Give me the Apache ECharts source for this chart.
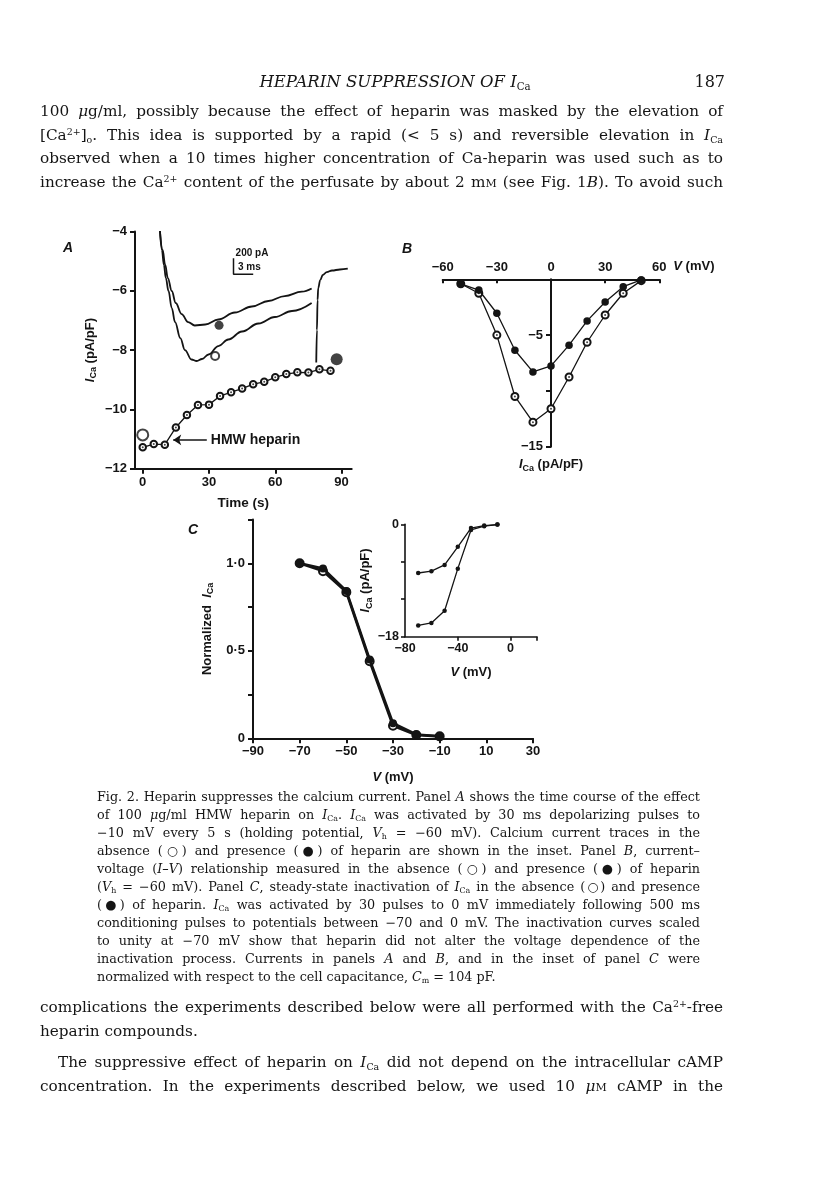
<!DOCTYPE html>
<html><head><meta charset="utf-8">
<script src="https://cdn.jsdelivr.net/npm/echarts@6/dist/echarts.min.js"></script>
<style>
html,body{margin:0;padding:0;background:#fff;}
#page{position:relative;width:816px;height:1204px;overflow:hidden;background:#fff;}
#chart{position:absolute;left:0;top:0;width:816px;height:1204px;}
.t{position:absolute;font-family:"DejaVu Serif","Liberation Serif",serif;color:#151515;white-space:normal;}
.j{text-align:justify;text-align-last:justify;}
.l{text-align:left;text-align-last:left;}
.body{font-size:15.5px;line-height:24px;height:24px;}
.cap{font-size:12.5px;line-height:18px;height:18px;}
.measure{text-align:left !important;text-align-last:left !important;white-space:nowrap !important;}
sub{font-size:0.62em;vertical-align:-0.3em;line-height:0;font-style:normal;}
sup{font-size:0.62em;vertical-align:0.5em;line-height:0;}
.sc{font-variant:small-caps;}
</style>
</head><body>
<div id="page">
<div id="chart"></div>

<div class="t" style="left:0;width:790px;top:70px;font-size:16.5px;line-height:24px;font-style:italic;text-align:center;">HEPARIN SUPPRESSION OF <i>I</i><sub>Ca</sub></div>
<div class="t" style="left:680px;width:45px;top:70px;font-size:16px;line-height:24px;text-align:right;">187</div>

<div class="t body j" style="left:40px;width:683px;top:99px;"><span>100&nbsp;<i>μ</i>g/ml, possibly because the effect of heparin was masked by the elevation of</span></div>
<div class="t body j" style="left:40px;width:683px;top:123px;"><span>[Ca<sup>2+</sup>]<sub>o</sub>. This idea is supported by a rapid (&lt; 5&nbsp;s) and reversible elevation in <i>I</i><sub>Ca</sub></span></div>
<div class="t body j" style="left:40px;width:683px;top:146px;"><span>observed when a 10 times higher concentration of Ca-heparin was used such as to</span></div>
<div class="t body j" style="left:40px;width:683px;top:170px;"><span>increase the Ca<sup>2+</sup> content of the perfusate by about 2&nbsp;m<span class="sc">m</span> (see Fig. 1<i>B</i>). To avoid such</span></div>

<div class="t cap j" style="left:97px;width:603px;top:788px;"><span>Fig. 2. Heparin suppresses the calcium current. Panel <i>A</i> shows the time course of the effect</span></div>
<div class="t cap j" style="left:97px;width:603px;top:806px;"><span>of 100&nbsp;<i>μ</i>g/ml HMW heparin on <i>I</i><sub>Ca</sub>. <i>I</i><sub>Ca</sub> was activated by 30&nbsp;ms depolarizing pulses to</span></div>
<div class="t cap j" style="left:97px;width:603px;top:824px;"><span>−10&nbsp;mV every 5&nbsp;s (holding potential, <i>V</i><sub>h</sub>&nbsp;=&nbsp;−60&nbsp;mV). Calcium current traces in the</span></div>
<div class="t cap j" style="left:97px;width:603px;top:842px;"><span>absence (○) and presence (●) of heparin are shown in the inset. Panel <i>B</i>, current–</span></div>
<div class="t cap j" style="left:97px;width:603px;top:860px;"><span>voltage (<i>I–V</i>) relationship measured in the absence (○) and presence (●) of heparin</span></div>
<div class="t cap j" style="left:97px;width:603px;top:878px;"><span>(<i>V</i><sub>h</sub>&nbsp;=&nbsp;−60&nbsp;mV). Panel <i>C</i>, steady-state inactivation of <i>I</i><sub>Ca</sub> in the absence (○) and presence</span></div>
<div class="t cap j" style="left:97px;width:603px;top:896px;"><span>(●) of heparin. <i>I</i><sub>Ca</sub> was activated by 30 pulses to 0&nbsp;mV immediately following 500&nbsp;ms</span></div>
<div class="t cap j" style="left:97px;width:603px;top:914px;"><span>conditioning pulses to potentials between −70 and 0&nbsp;mV. The inactivation curves scaled</span></div>
<div class="t cap j" style="left:97px;width:603px;top:932px;"><span>to unity at −70&nbsp;mV show that heparin did not alter the voltage dependence of the</span></div>
<div class="t cap j" style="left:97px;width:603px;top:950px;"><span>inactivation process. Currents in panels <i>A</i> and <i>B</i>, and in the inset of panel <i>C</i> were</span></div>
<div class="t cap l" style="left:97px;width:603px;top:968px;"><span>normalized with respect to the cell capacitance, <i>C</i><sub>m</sub>&nbsp;=&nbsp;104&nbsp;pF.</span></div>

<div class="t body j" style="left:40px;width:683px;top:995px;"><span>complications the experiments described below were all performed with the Ca<sup>2+</sup>-free</span></div>
<div class="t body l" style="left:40px;width:683px;top:1019px;"><span>heparin compounds.</span></div>
<div class="t body j" style="left:58px;width:665px;top:1050px;"><span>The suppressive effect of heparin on <i>I</i><sub>Ca</sub> did not depend on the intracellular cAMP</span></div>
<div class="t body j" style="left:40px;width:683px;top:1074px;"><span>concentration. In the experiments described below, we used 10&nbsp;<i>μ</i><span class="sc">m</span> cAMP in the</span></div>
</div>

<script>
// ---------- Panel A: time course of I_Ca ----------
const timeS   = [0,5,10,15,20,25,30,35,40,45,50,55,60,65,70,75,80,85];
const icaTime = [-11.28,-11.17,-11.19,-10.61,-10.19,-9.85,-9.84,-9.55,-9.42,-9.30,-9.15,-9.07,-8.92,-8.81,-8.75,-8.76,-8.65,-8.70];
const bigOpenPt   = [[0,-10.86]];
const bigFilledPt = [[87.8,-8.31]];
const ticksA_x = [0,30,60,90];
// inset current traces (ms, pA)
const hepTraceMs = [3.8,4.2,4.6,5.0,5.6,6.2,7.1,8.1,9.1,10.7,12.7,15.2,17.8,20.3,22.8,25.4,26.9];
const hepTracePa = [500,263,75,-88,-250,-400,-538,-638,-681,-669,-606,-519,-444,-375,-313,-259,-219];
const ctlTraceMs = [3.8,4.1,4.4,4.7,5.1,5.6,6.1,6.9,7.6,8.6,9.4,10.2,11.2,12.7,14.2,16.3,18.8,21.3,23.9,26.9];
const ctlTracePa = [500,263,75,-88,-250,-463,-638,-838,-988,-1106,-1125,-1100,-1044,-938,-856,-756,-656,-575,-500,-400];
const tailMs = [27.6,27.7,27.8,27.9,28.2,28.6,29.2,30.0,31.2,32.4];
const tailPa = [-1144,-738,-363,-213,-113,-50,-13,6,19,29];
const scaleBarMs = [15,15,18];
const scaleBarPa = [160,-40,-40];
const hepMarker = [[12.8,-679]];
const ctlMarker = [[12.2,-1063]];

// ---------- Panel B: I-V relationship ----------
const ivV   = [-50,-40,-30,-20,-10,0,10,20,30,40,50];
const ivHep = [-0.42,-0.96,-3.04,-6.36,-8.3,-7.76,-5.9,-3.73,-2.03,-0.66,-0.06];
const ivCtl = [-0.4,-1.25,-5.0,-10.5,-12.8,-11.6,-8.75,-5.64,-3.2,-1.25,-0.12];

// ---------- Panel C: steady-state inactivation ----------
const inactV   = [-70,-60,-50,-40,-30,-20,-10];
const inactCtl = [1.0,0.955,0.835,0.44,0.072,0.019,0.011];
const inactHep = [1.0,0.97,0.842,0.45,0.086,0.022,0.012];
const ticksC_x = [-90,-70,-50,-30,-10,10,30];
// inset of C (pA/pF)
const insetV   = [-70,-60,-50,-40,-30,-20,-10];
const insetHep = [-7.8,-7.5,-6.5,-3.6,-0.6,-0.2,-0.05];
const insetCtl = [-16.2,-15.8,-13.85,-7.1,-0.9,-0.3,-0.05];
const ticksIn_x = [-80,-40,0];

// ---------- fit justified text lines to their width ----------
function fitGroup(cls, maxSize) {
  const lines = Array.from(document.querySelectorAll('.' + cls));
  let size = maxSize;
  const fits = () => lines.every(d => {
    d.classList.add('measure');
    const w = d.firstElementChild.getBoundingClientRect().width;
    d.classList.remove('measure');
    return w <= d.clientWidth * 0.985;
  });
  for (; size > 8; size -= 0.25) {
    lines.forEach(d => d.style.fontSize = size + 'px');
    if (fits()) break;
  }
}
fitGroup('body', 18);
fitGroup('cap', 15);

const F = '"Liberation Sans", Arial, sans-serif';
const INK = '#141414';
const minus = v => (v < 0 ? '\u2212' + Math.abs(v) : String(v));
const zip = (xs, ys) => xs.map((x, i) => [x, ys[i]]);

const lbl = (o) => Object.assign({color: INK, fontFamily: F, fontSize: 13, fontWeight: 'bold'}, o || {});
const richI = {
  i: {fontStyle: 'italic', fontWeight: 'bold', fontFamily: F, fontSize: 13, color: INK},
  s: {fontWeight: 'bold', fontFamily: F, fontSize: 9, color: INK, padding: [7, 0, 0, 0]},
  n: {fontWeight: 'bold', fontFamily: F, fontSize: 13, color: INK}
};
const line = (w) => ({lineStyle: {color: INK, width: w || 2}});
const openSym = (bw) => ({color: INK, borderColor: INK, borderWidth: bw});

// grid B: y axis sits at V = 0
const gridB = {left: 442.7, top: 279.3, width: 216.6, height: 167.4};
const bMin = -60, bMax = 60;
const bAxisOffset = -(0 - bMin) / (bMax - bMin) * gridB.width;

const chart = echarts.init(document.getElementById('chart'), null, {renderer: 'canvas'});

const option = {
  animation: false,
  backgroundColor: 'transparent',
  grid: [
    {left: 135, top: 231.4, width: 216.7, height: 237.3},   // A
    {left: 135, top: 231, width: 220, height: 238},         // A inset traces
    gridB,                                                  // B
    {left: 253, top: 519.5, width: 280, height: 218.8},     // C
    {left: 405, top: 524.3, width: 132, height: 112.4}      // C inset
  ],
  xAxis: [
    {gridIndex: 0, type: 'value', min: -3.5, max: 94.6, splitLine: {show: false},
     axisLine: Object.assign({onZero: false}, line(2)),
     axisTick: Object.assign({customValues: ticksA_x, length: 5}, line(2)),
     axisLabel: lbl({customValues: ticksA_x, formatter: minus, margin: 7}),
     name: 'Time (s)', nameLocation: 'middle', nameGap: 28, nameTextStyle: lbl({fontSize: 13.5})},
    {gridIndex: 1, type: 'value', show: false, min: 0, max: 33.5},
    {gridIndex: 2, type: 'value', position: 'top', min: bMin, max: bMax, interval: 30, splitLine: {show: false},
     axisLine: Object.assign({onZero: false}, line(2)),
     axisTick: Object.assign({inside: true, length: 4}, line(2)),
     axisLabel: lbl({formatter: minus, margin: 5}),
     name: '{i|V} (mV)', nameLocation: 'end', nameGap: 14,
     nameTextStyle: lbl({padding: [0, 0, 26, 0], rich: richI})},
    {gridIndex: 3, type: 'value', min: -90, max: 30, splitLine: {show: false},
     axisLine: Object.assign({onZero: false}, line(2)),
     axisTick: Object.assign({customValues: ticksC_x, length: 5}, line(2)),
     axisLabel: lbl({customValues: ticksC_x, formatter: minus, margin: 7}),
     name: '{i|V} (mV)', nameLocation: 'middle', nameGap: 33, nameTextStyle: lbl({rich: richI})},
    {gridIndex: 4, type: 'value', min: -80, max: 20, splitLine: {show: false},
     axisLine: Object.assign({onZero: false}, line(1.6)),
     axisTick: Object.assign({customValues: [-40, 0, 20], length: 4}, line(1.6)),
     axisLabel: lbl({customValues: ticksIn_x, formatter: minus, margin: 5, fontSize: 12.5}),
     name: '{i|V} (mV)', nameLocation: 'middle', nameGap: 29, nameTextStyle: lbl({rich: richI})}
  ],
  yAxis: [
    {gridIndex: 0, type: 'value', min: -12, max: -4, interval: 2, splitLine: {show: false},
     axisLine: Object.assign({show: true, onZero: false}, line(2)),
     axisTick: Object.assign({show: true, length: 5}, line(2)),
     axisLabel: lbl({formatter: minus, margin: 8}),
     name: '{i|I}{s|Ca} (pA/pF)', nameLocation: 'middle', nameGap: 37, nameTextStyle: lbl({rich: richI})},
    {gridIndex: 1, type: 'value', show: false, min: -2475, max: 500},
    {gridIndex: 2, type: 'value', min: -15, max: 0, interval: 5, splitLine: {show: false}, offset: bAxisOffset,
     axisLine: Object.assign({show: true, onZero: false}, line(2)),
     axisTick: Object.assign({show: true, length: 5}, line(2)),
     axisLabel: lbl({formatter: v => (v === -5 || v === -15) ? minus(v) : '', margin: 8}),
     name: '{i|I}{s|Ca} (pA/pF)', nameLocation: 'start', nameGap: 10, nameTextStyle: lbl({rich: richI})},
    {gridIndex: 3, type: 'value', min: 0, max: 1.25, interval: 0.25, splitLine: {show: false},
     axisLine: Object.assign({show: true, onZero: false}, line(2)),
     axisTick: Object.assign({show: true, length: 5}, line(2)),
     axisLabel: lbl({formatter: v => v === 0 ? '0' : (v === 0.5 ? '0\u00b75' : (v === 1 ? '1\u00b70' : '')), margin: 8}),
     name: '{n|Normalized}  {i|I}{s|Ca}', nameLocation: 'middle', nameGap: 38, nameTextStyle: lbl({rich: richI})},
    {gridIndex: 4, type: 'value', min: -18, max: 0, interval: 6, splitLine: {show: false},
     axisLine: Object.assign({show: true, onZero: false}, line(1.6)),
     axisTick: Object.assign({show: true, length: 4}, line(1.6)),
     axisLabel: lbl({formatter: v => (v === 0 || v === -18) ? minus(v) : '', margin: 6, fontSize: 12.5}),
     name: '{i|I}{s|Ca} (pA/pF)', nameLocation: 'middle', nameGap: 26, nameTextStyle: lbl({rich: richI})}
  ],
  graphic: [
    {type: 'text', x: 68, y: 248, style: {text: 'A', font: 'italic bold 14px "Liberation Sans"', fill: INK, align: 'center', verticalAlign: 'middle'}},
    {type: 'text', x: 407, y: 249, style: {text: 'B', font: 'italic bold 14px "Liberation Sans"', fill: INK, align: 'center', verticalAlign: 'middle'}},
    {type: 'text', x: 193, y: 530, style: {text: 'C', font: 'italic bold 14px "Liberation Sans"', fill: INK, align: 'center', verticalAlign: 'middle'}},
    {type: 'text', x: 252, y: 253, style: {text: '200 pA', font: 'bold 10px "Liberation Sans"', fill: INK, align: 'center', verticalAlign: 'middle'}},
    {type: 'text', x: 238, y: 267.5, style: {text: '3 ms', font: 'bold 10px "Liberation Sans"', fill: INK, align: 'left', verticalAlign: 'middle'}}
  ],
  series: [
    // ---- Panel A time course
    {type: 'line', xAxisIndex: 0, yAxisIndex: 0, data: zip(timeS, icaTime), symbol: 'emptyCircle', symbolSize: 6.5,
     lineStyle: {color: INK, width: 1.3}, itemStyle: openSym(1.3), z: 3,
     markLine: {silent: true, symbol: ['none', 'arrow'], symbolSize: 8, animation: false,
       lineStyle: {color: INK, width: 1.6, type: 'solid'},
       label: {show: true, position: 'start', formatter: 'HMW heparin', distance: 4, color: INK, fontFamily: F, fontSize: 14, fontWeight: 'bold'},
       data: [[{coord: [29, -11.03]}, {coord: [13.8, -11.03]}]]}},
    {type: 'scatter', xAxisIndex: 0, yAxisIndex: 0, data: zip(timeS, icaTime), symbolSize: 2, itemStyle: {color: INK}, z: 4, silent: true},
    {type: 'scatter', xAxisIndex: 0, yAxisIndex: 0, data: bigOpenPt, symbol: 'emptyCircle', symbolSize: 11,
     itemStyle: openSym(1.6), z: 5},
    {type: 'scatter', xAxisIndex: 0, yAxisIndex: 0, data: bigFilledPt, symbol: 'circle', symbolSize: 12, itemStyle: {color: INK}, z: 5},
    // ---- Panel A inset traces
    {type: 'line', xAxisIndex: 1, yAxisIndex: 1, data: zip(hepTraceMs, hepTracePa), showSymbol: false, smooth: 0.4, smoothMonotone: 'x',
     lineStyle: {color: INK, width: 1.8}, silent: true},
    {type: 'line', xAxisIndex: 1, yAxisIndex: 1, data: zip(ctlTraceMs, ctlTracePa), showSymbol: false, smooth: 0.4, smoothMonotone: 'x',
     lineStyle: {color: INK, width: 1.8}, silent: true},
    {type: 'line', xAxisIndex: 1, yAxisIndex: 1, data: zip(tailMs, tailPa), showSymbol: false, smooth: 0.4, smoothMonotone: 'x',
     lineStyle: {color: INK, width: 1.8}, silent: true},
    {type: 'line', xAxisIndex: 1, yAxisIndex: 1, data: zip(scaleBarMs, scaleBarPa), showSymbol: false,
     lineStyle: {color: INK, width: 1.5}, silent: true},
    {type: 'scatter', xAxisIndex: 1, yAxisIndex: 1, data: hepMarker, symbol: 'circle', symbolSize: 9, itemStyle: {color: INK}},
    {type: 'scatter', xAxisIndex: 1, yAxisIndex: 1, data: ctlMarker, symbol: 'emptyCircle', symbolSize: 8,
     itemStyle: openSym(1.5)},
    // ---- Panel B I-V
    {type: 'line', xAxisIndex: 2, yAxisIndex: 2, data: zip(ivV, ivCtl), symbol: 'emptyCircle', symbolSize: 7,
     lineStyle: {color: INK, width: 1.3}, itemStyle: openSym(1.3), z: 3},
    {type: 'scatter', xAxisIndex: 2, yAxisIndex: 2, data: zip(ivV, ivCtl), symbolSize: 2, itemStyle: {color: INK}, z: 4, silent: true},
    {type: 'line', xAxisIndex: 2, yAxisIndex: 2, data: zip(ivV, ivHep), symbol: 'circle', symbolSize: 7.5,
     lineStyle: {color: INK, width: 1.3}, itemStyle: {color: INK}, z: 5},
    // ---- Panel C inactivation
    {type: 'line', xAxisIndex: 3, yAxisIndex: 3, data: zip(inactV, inactCtl), symbol: 'emptyCircle', symbolSize: 8,
     lineStyle: {color: INK, width: 2.6}, itemStyle: openSym(1.8), z: 3},
    {type: 'line', xAxisIndex: 3, yAxisIndex: 3, data: zip(inactV, inactHep), symbol: 'circle', symbolSize: 8,
     lineStyle: {color: INK, width: 2.6}, itemStyle: {color: INK}, z: 4},
    // ---- Panel C inset
    {type: 'line', xAxisIndex: 4, yAxisIndex: 4, data: zip(insetV, insetHep), symbol: 'circle', symbolSize: 4.5,
     lineStyle: {color: INK, width: 1.3}, itemStyle: {color: INK}},
    {type: 'line', xAxisIndex: 4, yAxisIndex: 4, data: zip(insetV, insetCtl), symbol: 'circle', symbolSize: 4.5,
     lineStyle: {color: INK, width: 1.3}, itemStyle: {color: INK}}
  ]
};
chart.setOption(option);
</script>
</body></html>
